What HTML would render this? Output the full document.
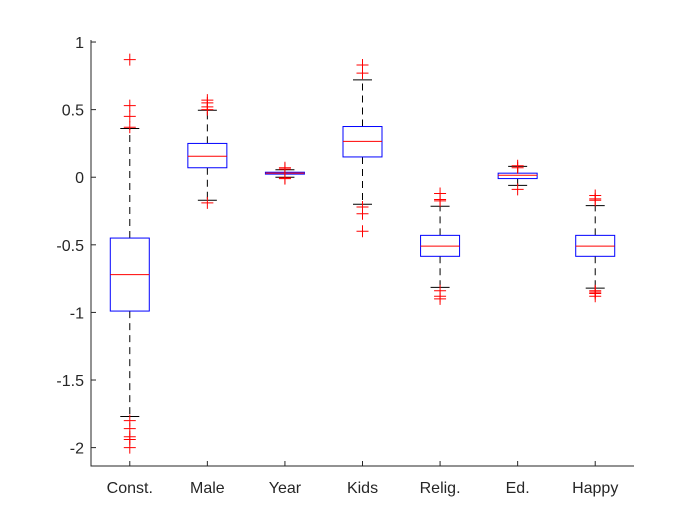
<!DOCTYPE html>
<html><head><meta charset="utf-8"><style>
body{margin:0;background:#fff;}
svg{display:block;font-family:"Liberation Sans",sans-serif;}
</style></head><body>
<svg id="c" width="700" height="525"></svg>
<script>
const categories=["Const.","Male","Year","Kids","Relig.","Ed.","Happy"];
const q1=[-0.99,0.07,0.023,0.15,-0.585,-0.01,-0.585];
const medians=[-0.72,0.155,0.03,0.265,-0.51,0.015,-0.51];
const q3=[-0.45,0.25,0.037,0.375,-0.43,0.03,-0.43];
const whiskerLow=[-1.77,-0.17,0.0,-0.2,-0.815,-0.06,-0.82];
const whiskerHigh=[0.36,0.495,0.055,0.72,-0.215,0.08,-0.21];
const outliers=[[0.87,0.53,0.45,0.37,-1.8,-1.86,-1.92,-1.94,-2.0],[0.5,0.52,0.55,0.57,-0.19],[0.07,0.06,-0.005,-0.01],[0.77,0.83,-0.22,-0.27,-0.4],[-0.12,-0.165,-0.175,-0.84,-0.88,-0.9],[0.085,0.07,-0.09],[-0.135,-0.16,-0.17,-0.84,-0.85,-0.86,-0.88]];
const yTicks=[1,0.5,0,-0.5,-1,-1.5,-2];
const yTickLabels=["1","0.5","0","-0.5","-1","-1.5","-2"];
const L=91,R=634,T=40,B=466;
const yMin=-2.136,yMax=1.015;
function y(v){return B-(v-yMin)/(yMax-yMin)*(B-T);}
function x(i){return L+(i+0.5)*(R-L)/categories.length;}
const svg=document.getElementById('c');
function el(t,a,p){const e=document.createElementNS('http://www.w3.org/2000/svg',t);for(const k in a)e.setAttribute(k,a[k]);(p||svg).appendChild(e);return e;}
const ax=el('path',{d:`M${L},${T}V${B}H${R}`,stroke:'#262626',fill:'none','stroke-width':1});


yTicks.forEach((v,i)=>{
 const t=el('line',{x1:L,x2:L+5,y1:y(v),y2:y(v),stroke:'#262626'});
 
 
 const tx=el('text',{x:L-7,y:y(v)+6,'text-anchor':'end','font-size':16,fill:'#262626'});
 tx.textContent=yTickLabels[i];
 
 
});
const hw=19.5,cw=9.5;
categories.forEach((c,i)=>{
 const cx=x(i);
 const t=el('line',{x1:cx,x2:cx,y1:B,y2:B-5,stroke:'#262626'});
 
 
 const tx=el('text',{x:cx,y:B+27,'text-anchor':'middle','font-size':16,fill:'#262626'});
 tx.textContent=c;
 
 
 const g=el('g',{});
 
 
 el('line',{x1:cx,x2:cx,y1:y(q3[i]),y2:y(whiskerHigh[i]),stroke:'#000','stroke-dasharray':'7,5'},g);
 el('line',{x1:cx,x2:cx,y1:y(q1[i]),y2:y(whiskerLow[i]),stroke:'#000','stroke-dasharray':'7,5'},g);
 el('line',{x1:cx-cw,x2:cx+cw,y1:y(whiskerHigh[i]),y2:y(whiskerHigh[i]),stroke:'#000'},g);
 el('line',{x1:cx-cw,x2:cx+cw,y1:y(whiskerLow[i]),y2:y(whiskerLow[i]),stroke:'#000'},g);
 el('rect',{x:cx-hw,y:y(q3[i]),width:2*hw,height:Math.max(1,y(q1[i])-y(q3[i])),fill:'none',stroke:'#0000ff'},g);
 el('line',{x1:cx-hw,x2:cx+hw,y1:y(medians[i]),y2:y(medians[i]),stroke:'#ff0000'},g);
 outliers[i].forEach(o=>{
  const p=el('path',{d:`M${cx-6},${y(o)}H${cx+6}M${cx},${y(o)-6}V${y(o)+6}`,stroke:'#ff0000','stroke-width':1},g);
  
  
 });
});
</script>
</body></html>
